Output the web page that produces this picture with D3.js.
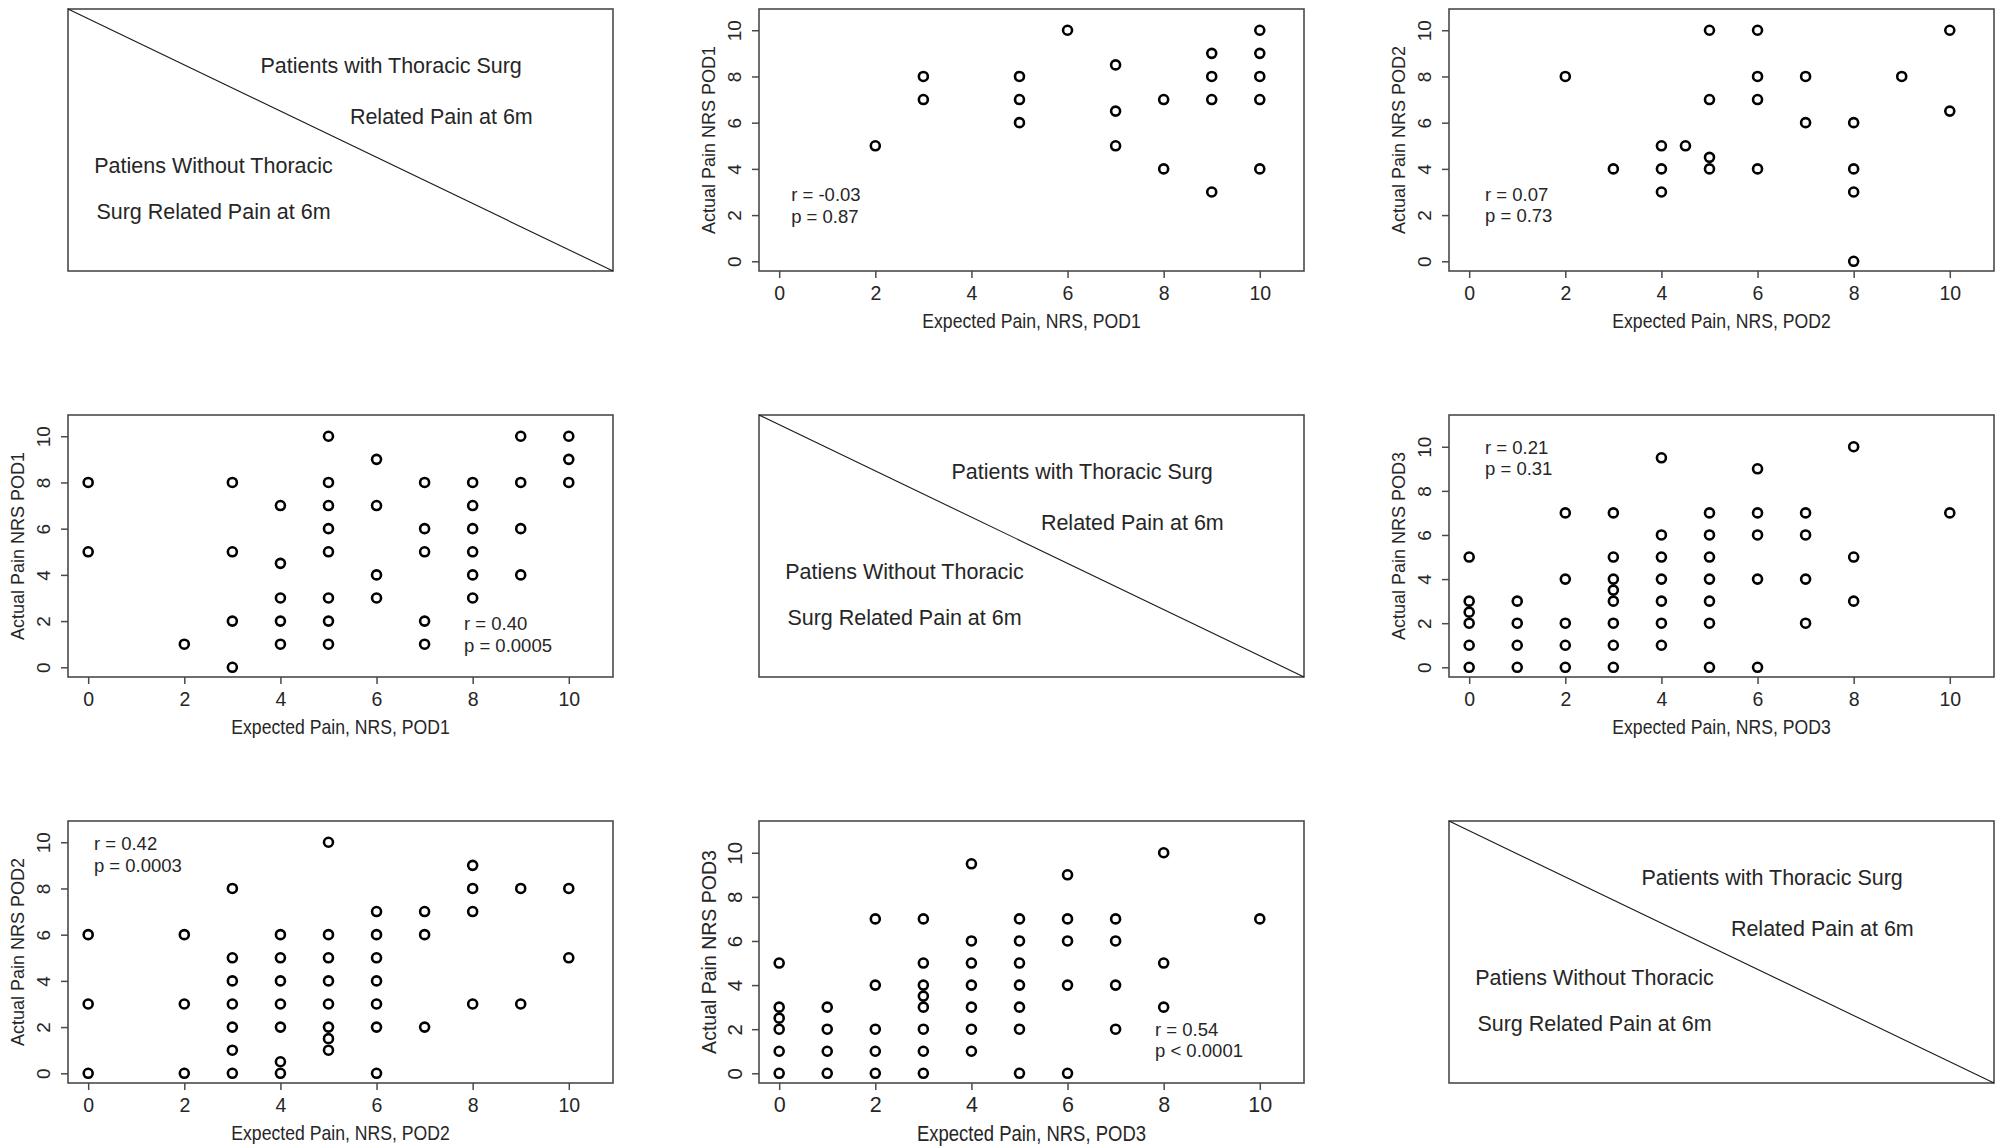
<!DOCTYPE html>
<html>
<head>
<meta charset="utf-8">
<script src="https://cdn.jsdelivr.net/npm/d3@7"></script>
<style>
    body { margin: 0; background: #ffffff; }
    svg { display: block; }
</style>
</head>
<body>
<div id="chart"></div>
<script>
// ---- Data ----
// each point is [expected pain, actual pain]
const pod1With = [[2,5],[3,8],[3,7],[5,8],[5,7],[5,6],[6,10],[7,8.5],[7,6.5],[7,5],[8,7],[8,4],
    [9,9],[9,8],[9,7],[9,3],[10,10],[10,9],[10,8],[10,7],[10,4]];

const pod2With = [[2,8],[3,4],[4,5],[4,4],[4,3],[4.5,5],[5,10],[5,7],[5,4.5],[5,4],[6,10],[6,8],
    [6,7],[6,4],[7,8],[7,6],[8,6],[8,4],[8,3],[8,0],[9,8],[10,10],[10,6.5]];

const pod3With = [[0,5],[0,3],[0,2.5],[0,2],[0,1],[0,0],[1,3],[1,2],[1,1],[1,0],[2,7],[2,4],[2,2],
    [2,1],[2,0],[3,7],[3,5],[3,4],[3,3.5],[3,3],[3,2],[3,1],[3,0],[4,9.5],[4,6],[4,5],[4,4],[4,3],
    [4,2],[4,1],[5,7],[5,6],[5,5],[5,4],[5,3],[5,2],[5,0],[6,9],[6,7],[6,6],[6,4],[6,0],[7,7],[7,6],
    [7,4],[7,2],[8,10],[8,5],[8,3],[10,7]];

const pod1Without = [[0,8],[0,5],[2,1],[3,8],[3,5],[3,2],[3,0],[4,7],[4,4.5],[4,3],[4,2],[4,1],
    [5,10],[5,8],[5,7],[5,6],[5,5],[5,3],[5,2],[5,1],[6,9],[6,7],[6,4],[6,3],[7,8],[7,6],[7,5],
    [7,2],[7,1],[8,8],[8,7],[8,6],[8,5],[8,4],[8,3],[9,10],[9,8],[9,6],[9,4],[10,10],[10,9],[10,8]];

const pod2Without = [[0,6],[0,3],[0,0],[2,6],[2,3],[2,0],[3,8],[3,5],[3,4],[3,3],[3,2],[3,1],[3,0],
    [4,6],[4,5],[4,4],[4,3],[4,2],[4,0.5],[4,0],[5,10],[5,6],[5,5],[5,4],[5,3],[5,2],[5,1.5],[5,1],
    [6,7],[6,6],[6,5],[6,4],[6,3],[6,2],[6,0],[7,7],[7,6],[7,2],[8,9],[8,8],[8,7],[8,3],[9,8],[9,3],
    [10,8],[10,5]];

const pod3Without = [[0,5],[0,3],[0,2.5],[0,2],[0,1],[0,0],[1,3],[1,2],[1,1],[1,0],[2,7],[2,4],[2,2],
    [2,1],[2,0],[3,7],[3,5],[3,4],[3,3.5],[3,3],[3,2],[3,1],[3,0],[4,9.5],[4,6],[4,5],[4,4],[4,3],
    [4,2],[4,1],[5,7],[5,6],[5,5],[5,4],[5,3],[5,2],[5,0],[6,9],[6,7],[6,6],[6,4],[6,0],[7,7],[7,6],
    [7,4],[7,2],[8,10],[8,5],[8,3],[10,7]];

const tickValues = [0, 2, 4, 6, 8, 10];

const xTitles = ['Expected Pain, NRS, POD1', 'Expected Pain, NRS, POD2', 'Expected Pain, NRS, POD3'];
const yTitles = ['Actual Pain NRS POD1', 'Actual Pain NRS POD2', 'Actual Pain NRS POD3'];

const rLabels = ['r = -0.03', 'r = 0.07', 'r = 0.40', 'r = 0.21', 'r = 0.42', 'r = 0.54'];
const pLabels = ['p = 0.87', 'p = 0.73', 'p = 0.0005', 'p = 0.31', 'p = 0.0003', 'p < 0.0001'];

const diagLabels = ['Patients with Thoracic Surg', 'Related Pain at 6m',
    'Patiens Without Thoracic', 'Surg Related Pain at 6m'];

// ---- Layout ----
const W = 2004, H = 1146;
const colLeft = [68, 759, 1449];
const rowTop = [9, 415, 821];
const boxW = 545, boxH = 262;
const font = '"Liberation Sans", Arial, sans-serif';
const frameColor = '#4a4a4a';
const textColor = '#262626';

// which panel shows what; stat = [x, y of r line, y of p line] in data units
const panels = [
    { row: 0, col: 1, pts: pod1With,    pod: 0, ylim: 10.5, k: 0, stat: [0.25, 2.9, 1.95] },
    { row: 0, col: 2, pts: pod2With,    pod: 1, ylim: 10.5, k: 1, stat: [0.33, 2.9, 2.0] },
    { row: 1, col: 0, pts: pod1Without, pod: 0, ylim: 10.5, k: 2, stat: [7.82, 1.9, 0.95] },
    { row: 1, col: 2, pts: pod3With,    pod: 2, ylim: 11,   k: 3, stat: [0.33, 9.95, 9.0] },
    { row: 2, col: 0, pts: pod2Without, pod: 1, ylim: 10.5, k: 4, stat: [0.12, 9.96, 9.0] },
    { row: 2, col: 1, pts: pod3Without, pod: 2, ylim: 11,   k: 5, stat: [7.82, 2.0, 1.05], big: true }
];

// label centres inside the diagonal boxes (fractions of the box)
const diagPos = [[0.593, 0.218], [0.685, 0.412], [0.267, 0.599], [0.267, 0.775]];

const svg = d3.select('#chart').append('svg')
    .attr('width', W)
    .attr('height', H)
    .style('background', '#ffffff');

function drawScatter(p) {
    const x0 = colLeft[p.col], y0 = rowTop[p.row];
    const xlim = 10.5;
    // R style 4% padding round the limits
    const x = d3.scaleLinear().domain([-0.04 * xlim, xlim * 1.04]).range([x0, x0 + boxW]);
    const y = d3.scaleLinear().domain([-0.04 * p.ylim, p.ylim * 1.04]).range([y0 + boxH, y0]);

    const tickFont = p.big ? 21.5 : 19.5;
    const yTickFont = p.big ? 20.5 : 19;
    const g = svg.append('g');

    // bottom axis
    g.append('g')
        .attr('transform', `translate(0,${y0 + boxH})`)
        .call(d3.axisBottom(x).tickValues(tickValues).tickSize(7).tickPadding(p.big ? 7 : 8))
        .call(a => a.select('.domain').remove())
        .call(a => a.selectAll('line').attr('stroke', frameColor).attr('stroke-width', 1.5))
        .call(a => a.selectAll('text')
            .attr('font-family', font)
            .attr('font-size', tickFont)
            .attr('fill', textColor));

    // left axis, labels parallel to the axis
    g.append('g')
        .attr('transform', `translate(${x0},0)`)
        .call(d3.axisLeft(y).tickValues(tickValues).tickSize(7))
        .call(a => a.select('.domain').remove())
        .call(a => a.selectAll('line').attr('stroke', frameColor).attr('stroke-width', 1.5))
        .call(a => a.selectAll('text')
            .attr('x', null).attr('dy', null)
            .attr('transform', 'translate(-25,0) rotate(-90)')
            .attr('text-anchor', 'middle')
            .attr('dominant-baseline', 'central')
            .attr('font-family', font)
            .attr('font-size', yTickFont)
            .attr('fill', textColor));

    // frame
    g.append('rect')
        .attr('x', x0).attr('y', y0)
        .attr('width', boxW).attr('height', boxH)
        .attr('fill', 'none')
        .attr('stroke', frameColor)
        .attr('stroke-width', 1.6);

    // axis titles
    g.append('text')
        .attr('transform', `translate(${x0 + boxW / 2},${y0 + boxH + 50}) scale(0.86,1)`)
        .attr('text-anchor', 'middle')
        .attr('dominant-baseline', 'central')
        .attr('font-family', font)
        .attr('font-size', p.big ? 21.5 : 20.5)
        .attr('fill', textColor)
        .text(xTitles[p.pod]);

    g.append('text')
        .attr('transform', `translate(${x0 - 50},${y0 + boxH / 2}) rotate(-90)`)
        .attr('text-anchor', 'middle')
        .attr('dominant-baseline', 'central')
        .attr('font-family', font)
        .attr('font-size', p.big ? 19.5 : 18)
        .attr('fill', textColor)
        .text(yTitles[p.pod]);

    // points (open circles)
    g.selectAll('circle.pt')
        .data(p.pts)
        .join('circle')
        .attr('class', 'pt')
        .attr('cx', d => x(d[0]))
        .attr('cy', d => y(d[1]))
        .attr('r', 4.5)
        .attr('fill', 'none')
        .attr('stroke', '#000000')
        .attr('stroke-width', 2.6);

    // correlation text
    [rLabels[p.k], pLabels[p.k]].forEach((t, i) => {
        g.append('text')
            .attr('x', x(p.stat[0]))
            .attr('y', y(p.stat[i + 1]))
            .attr('dominant-baseline', 'central')
            .attr('font-family', font)
            .attr('font-size', 18.5)
            .attr('fill', textColor)
            .text(t);
    });
}

function drawDiagonal(row, col) {
    const x0 = colLeft[col], y0 = rowTop[row];
    const g = svg.append('g');

    g.append('rect')
        .attr('x', x0).attr('y', y0)
        .attr('width', boxW).attr('height', boxH)
        .attr('fill', 'none')
        .attr('stroke', frameColor)
        .attr('stroke-width', 1.6);

    g.append('line')
        .attr('x1', x0).attr('y1', y0)
        .attr('x2', x0 + boxW).attr('y2', y0 + boxH)
        .attr('stroke', '#1a1a1a')
        .attr('stroke-width', 1.1);

    diagLabels.forEach((t, i) => {
        g.append('text')
            .attr('x', x0 + diagPos[i][0] * boxW)
            .attr('y', y0 + diagPos[i][1] * boxH)
            .attr('text-anchor', 'middle')
            .attr('dominant-baseline', 'central')
            .attr('font-family', font)
            .attr('font-size', 21.5)
            .attr('fill', textColor)
            .text(t);
    });
}

[0, 1, 2].forEach(i => drawDiagonal(i, i));
panels.forEach(drawScatter);
</script>
</body>
</html>
